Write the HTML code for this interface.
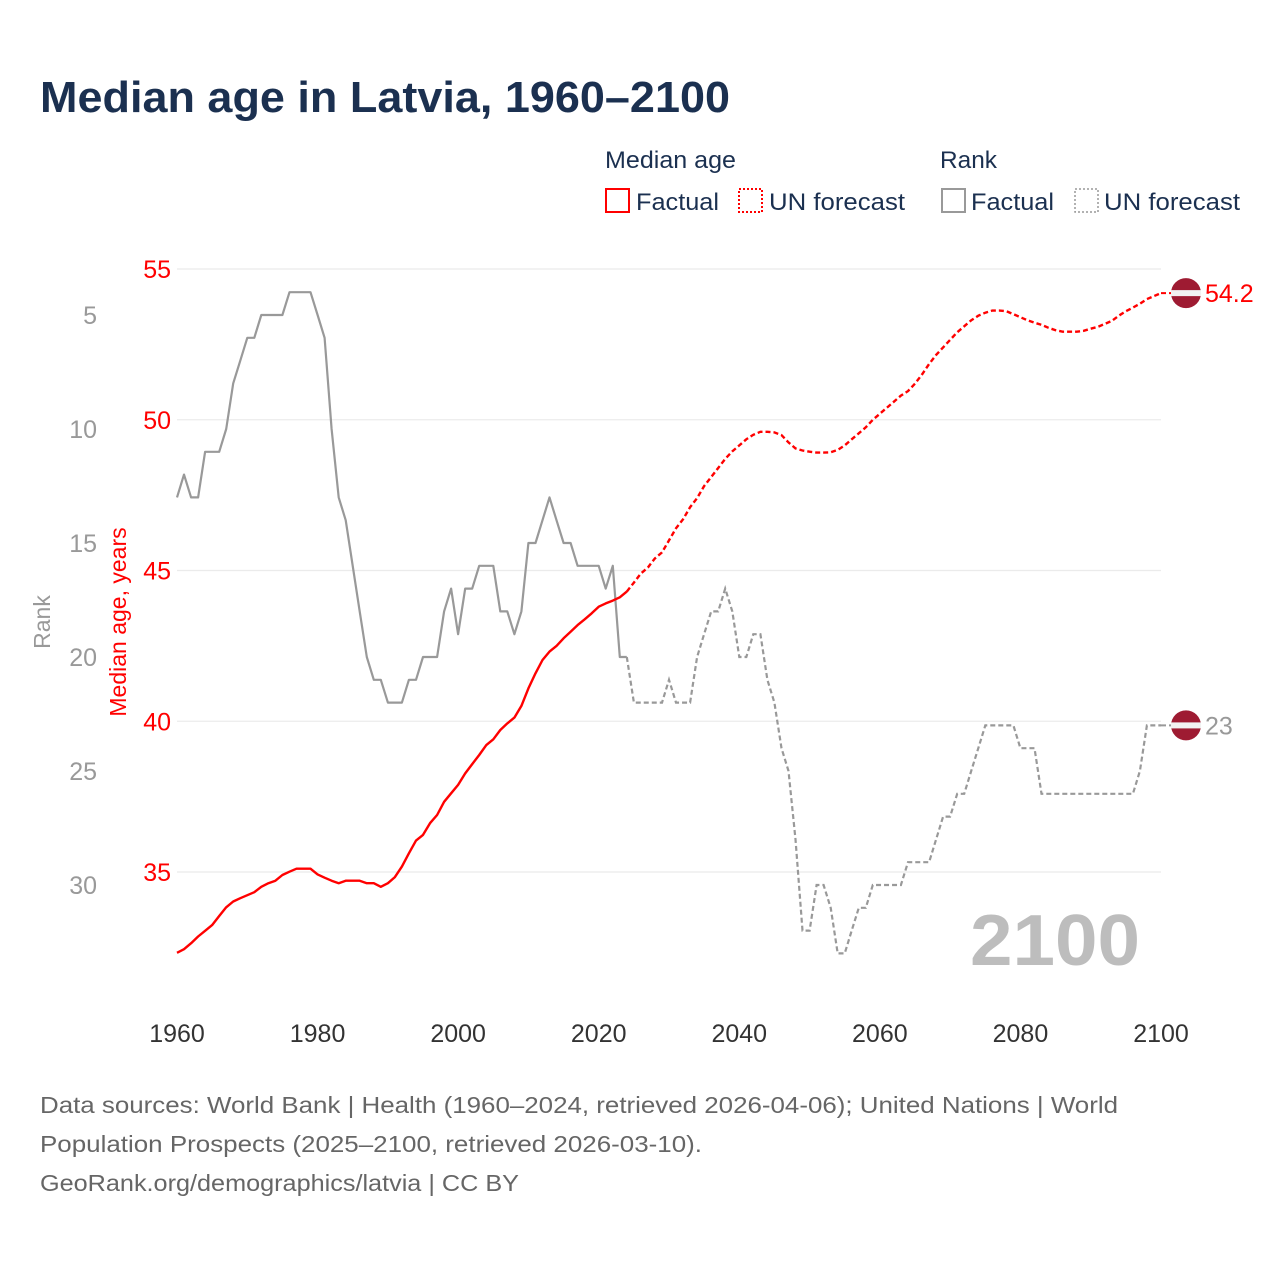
<!DOCTYPE html>
<html><head><meta charset="utf-8"><title>Median age in Latvia</title>
<style>
html,body{margin:0;padding:0;background:#fff;}
svg{display:block;font-family:"Liberation Sans",sans-serif;}
</style></head>
<body>
<svg id="chart" width="1280" height="1280" viewBox="0 0 1280 1280" xmlns="http://www.w3.org/2000/svg">
<text x="40" y="112" font-size="44" font-weight="bold" fill="#1b3050" textLength="690" lengthAdjust="spacingAndGlyphs">Median age in Latvia, 1960–2100</text>
<g font-size="24" fill="#1b3050">
<text x="605" y="168" textLength="131" lengthAdjust="spacingAndGlyphs">Median age</text>
<text x="940" y="168" textLength="57" lengthAdjust="spacingAndGlyphs">Rank</text>
<g><rect x="606" y="189" width="23" height="23" fill="none" stroke="#ff0000" stroke-width="2"/><text x="636" y="210" textLength="83" lengthAdjust="spacingAndGlyphs">Factual</text></g>
<g><rect x="739" y="189" width="23" height="23" fill="none" stroke="#ff0000" stroke-width="2" stroke-dasharray="2 2"/><text x="769" y="210" textLength="136" lengthAdjust="spacingAndGlyphs">UN forecast</text></g>
<g><rect x="942" y="189" width="23" height="23" fill="none" stroke="#999" stroke-width="2"/><text x="971" y="210" textLength="83" lengthAdjust="spacingAndGlyphs">Factual</text></g>
<g><rect x="1075" y="189" width="23" height="23" fill="none" stroke="#999" stroke-width="1.5" stroke-dasharray="2 2"/><text x="1104" y="210" textLength="136" lengthAdjust="spacingAndGlyphs">UN forecast</text></g>
</g>
<g id="grid"></g>
<g id="axes"></g>
<text x="1140" y="965" font-size="72" font-weight="bold" fill="#bdbdbd" text-anchor="end" textLength="170" lengthAdjust="spacingAndGlyphs">2100</text>
<g id="series"></g>
<text transform="translate(126,622) rotate(-90)" font-size="23" fill="#ff0000" text-anchor="middle">Median age, years</text>
<text transform="translate(50,622) rotate(-90)" font-size="23" fill="#999" text-anchor="middle">Rank</text>
<g font-size="23" fill="#666">
<text x="40" y="1113" textLength="1078" lengthAdjust="spacingAndGlyphs">Data sources: World Bank | Health (1960–2024, retrieved 2026-04-06); United Nations | World</text>
<text x="40" y="1152" textLength="662" lengthAdjust="spacingAndGlyphs">Population Prospects (2025–2100, retrieved 2026-03-10).</text>
<text x="40" y="1191" textLength="479" lengthAdjust="spacingAndGlyphs">GeoRank.org/demographics/latvia | CC BY</text>
</g>
</svg>
<script>
const xTicks = [1960,1980,2000,2020,2040,2060,2080,2100];
const ageTicks = [55,50,45,40,35];
const rankTicks = [5,10,15,20,25,30];
const ageFactualYears0 = 1960;
const ageFactual = [32.32,32.44,32.64,32.86,33.05,33.24,33.54,33.83,34.02,34.13,34.23,34.33,34.51,34.63,34.71,34.9,35.01,35.11,35.11,35.11,34.92,34.81,34.71,34.63,34.71,34.71,34.71,34.63,34.63,34.51,34.63,34.83,35.18,35.62,36.04,36.23,36.62,36.89,37.33,37.61,37.89,38.27,38.58,38.88,39.21,39.4,39.71,39.93,40.12,40.51,41.09,41.59,42.03,42.31,42.5,42.75,42.97,43.19,43.38,43.58,43.8,43.91,44.0,44.11,44.3];
const ageForecastYears0 = 2024;
const ageForecast = [44.3,44.6,44.9,45.1,45.4,45.6,46.0,46.4,46.7,47.1,47.4,47.8,48.1,48.4,48.7,48.95,49.15,49.35,49.5,49.6,49.6,49.58,49.49,49.25,49.05,48.98,48.94,48.91,48.91,48.92,49.0,49.15,49.35,49.55,49.75,50.0,50.2,50.4,50.6,50.8,50.95,51.2,51.5,51.85,52.15,52.4,52.65,52.9,53.1,53.3,53.45,53.55,53.62,53.62,53.6,53.5,53.4,53.3,53.22,53.15,53.05,52.97,52.92,52.92,52.92,52.95,53.02,53.08,53.18,53.28,53.45,53.6,53.72,53.85,54.0,54.1,54.2];
const rankFactual = [13,12,13,13,11,11,11,10,8,7,6,6,5,5,5,5,4,4,4,4,5,6,10,13,14,16,18,20,21,21,22,22,22,21,21,20,20,20,18,17,19,17,17,16,16,16,18,18,19,18,15,15,14,13,14,15,15,16,16,16,16,17,16,20,20];
const rankForecast = [20,22,22,22,22,22,21,22,22,22,20,19,18,18,17,18,20,20,19,19,21,22,24,25,28,32,32,30,30,31,33,33,32,31,31,30,30,30,30,30,29,29,29,29,28,27,27,26,26,25,24,23,23,23,23,23,24,24,24,26,26,26,26,26,26,26,26,26,26,26,26,26,26,25,23,23,23];
const ageLabel = "54.2";
const rankLabel = "23";

const NS = "http://www.w3.org/2000/svg";
function xS(yr){ return 177 + (yr-1960)*(1161-177)/140; }
function yAge(v){ return 269 + (55-v)*(872-269)/20; }
function yRank(r){ return 315 + (r-5)*(885-315)/25; }
function mk(tag, attrs, parent){ const e=document.createElementNS(NS,tag); for(const k in attrs) e.setAttribute(k,attrs[k]); parent.appendChild(e); return e; }

const grid=document.getElementById('grid'), axes=document.getElementById('axes'), series=document.getElementById('series');
ageTicks.forEach(t=>{
  const l=mk('line',{x1:177,x2:1161,y1:yAge(t),y2:yAge(t),stroke:'#ebebeb','stroke-width':1.2},grid);
  
  
  const tx=mk('text',{x:171,y:yAge(t)+9,'font-size':25,fill:'#ff0000','text-anchor':'end'},axes);
  tx.textContent=t;
  
  
});
rankTicks.forEach(t=>{
  const tx=mk('text',{x:97,y:yRank(t)+9,'font-size':25,fill:'#999','text-anchor':'end'},axes);
  tx.textContent=t;
  
  
});
xTicks.forEach(t=>{
  const tx=mk('text',{x:xS(t),y:1042,'font-size':25,fill:'#333','text-anchor':'middle'},axes);
  tx.textContent=t;
  
  
});
function pts(arr,y0,yf){ return arr.map((v,i)=>xS(y0+i).toFixed(1)+','+yf(v).toFixed(1)).join(' '); }
const rf=mk('polyline',{points:pts(rankFactual,1960,yRank),fill:'none',stroke:'#999','stroke-width':2.2,'stroke-linejoin':'round'},series);


const rfc=mk('polyline',{points:pts(rankForecast,2024,yRank),fill:'none',stroke:'#999','stroke-width':2.2,'stroke-dasharray':'5 3'},series);


const af=mk('polyline',{points:pts(ageFactual,ageFactualYears0,yAge),fill:'none',stroke:'#ff0000','stroke-width':2.4,'stroke-linejoin':'round'},series);


const afc=mk('polyline',{points:pts(ageForecast,ageForecastYears0,yAge),fill:'none',stroke:'#ff0000','stroke-width':2.4,'stroke-dasharray':'5 3'},series);



function flag(cy,name,label,color,lineColor){
  const ex=xS(2100);
  const ln=mk('line',{x1:ex,x2:1172,y1:cy,y2:cy,stroke:lineColor,'stroke-width':2,'stroke-dasharray':'5 3'},series);
  
  
  const g=mk('g',{},series);
  
  
  mk('circle',{cx:1186,cy:cy,r:15,fill:'#9e1b32'},g);
  mk('rect',{x:1171,y:cy-3,width:30,height:6,fill:'#f2f2f2'},g);
  const t=mk('text',{x:1205,y:cy+9,'font-size':25,fill:color},series);
  t.textContent=label;
  
  
}
flag(yAge(ageForecast[ageForecast.length-1]),'median-age',ageLabel,'#ff0000','#ff0000');
flag(yRank(rankForecast[rankForecast.length-1]),'rank',rankLabel,'#999','#999');
</script>
</body></html>
